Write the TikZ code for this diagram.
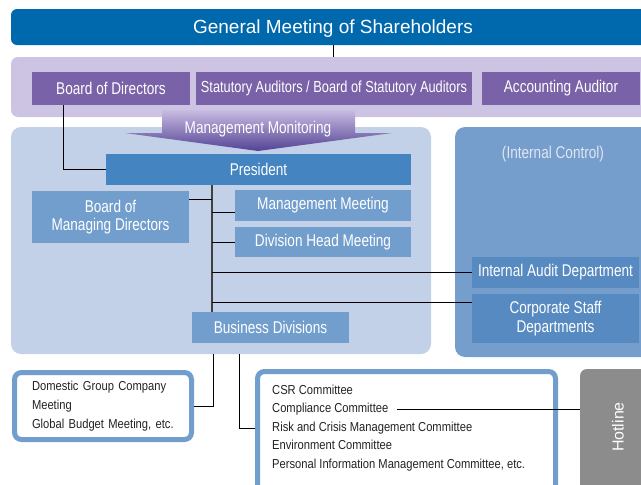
\documentclass[tikz,border=0pt]{standalone}
\usepackage{fontspec}
\setmainfont{Liberation Sans}
\newfontfamily\narrowfont[FakeStretch=0.8]{Liberation Sans}
\newfontfamily\listfont[FakeStretch=0.86]{Liberation Sans}

\definecolor{shareblue}{RGB}{0,104,172}
\definecolor{lavender}{RGB}{204,196,226}
\definecolor{boardpurple}{RGB}{122,98,168}
\definecolor{monlight}{RGB}{200,188,226}
\definecolor{mondark}{RGB}{84,66,148}
\definecolor{execpanel}{RGB}{195,209,232}
\definecolor{presblue}{RGB}{68,132,192}
\definecolor{staffblue}{RGB}{114,158,206}
\definecolor{ctrlpanel}{RGB}{118,158,204}
\definecolor{ctrlblue}{RGB}{88,138,194}
\definecolor{ctrltext}{RGB}{222,230,242}
\definecolor{hotgray}{RGB}{140,140,140}
\definecolor{listtext}{RGB}{35,35,35}

\tikzset{
  orgbox/.style={inner sep=0pt, text=white, align=center,
    font=\narrowfont\fontsize{17}{18.5}\selectfont},
  boardbox/.style={orgbox, fill=boardpurple},
  staffbox/.style={orgbox, fill=staffblue},
  ctrlbox/.style={orgbox, fill=ctrlblue},
  listbox/.style={draw=staffblue, line width=5pt, fill=white, rounded corners=7pt,
    inner sep=0pt, text=listtext, align=left,
    font=\listfont\fontsize{13}{19}\selectfont},
  link/.style={draw=black, line width=0.8pt},
  trunkline/.style={draw=black!75, line width=1.3pt}
}

\begin{document}
\begin{tikzpicture}[x=1pt,y=-1pt]
  \useasboundingbox (0,0) rectangle (641,485);
  \clip (0,0) rectangle (641,485);

  % General meeting and the band of boards
  \node[fill=shareblue, rounded corners=6pt, minimum width=644, minimum height=36] (gms) at (333,27) {};
  \node[text=white, inner sep=0pt, font=\fontsize{19}{21}\selectfont] (gmstext) at (333,29) {General Meeting of Shareholders};
  \node[fill=lavender, rounded corners=7pt, minimum width=644, minimum height=60] (band) at (333,87) {};
  \draw[link] (gms.south) -- (band.north);

  \node[boardbox, minimum width=158, minimum height=33] (bod) at (111,88.5) {Board of Directors};
  \node[boardbox, minimum width=276, minimum height=33, font=\narrowfont\fontsize{16}{18}\selectfont]
    (stat) at (334,88.5) {Statutory Auditors / Board of Statutory Auditors};
  \node[boardbox, minimum width=158, minimum height=33] (acc) at (561,88.5) {Accounting Auditor};

  % Panels
  \node[fill=execpanel, rounded corners=10pt, minimum width=420, minimum height=227] (mgmt) at (221,240.5) {};
  \node[fill=ctrlpanel, rounded corners=10pt, minimum width=205, minimum height=230] (ctrl) at (557.5,242) {};
  \node[inner sep=0pt, text=ctrltext, font=\narrowfont\fontsize{17}{18}\selectfont] (ctrllabel) at (553,154) {(Internal Control)};

  % Management monitoring arrow
  \shade[top color=monlight, bottom color=mondark]
    (162,110) -- (355,110) -- (355,133) -- (392,133) -- (258,151) -- (125,133) -- (162,133) -- cycle;
  \node[orgbox] (monitor) at (258,129.5) {Management Monitoring};

  % Executive boxes
  \node[orgbox, fill=presblue, minimum width=305, minimum height=31] (president) at (258.5,169.5) {President};
  \node[staffbox, minimum width=157, minimum height=52] (bmd) at (110.5,217) {Board of\\Managing Directors};
  \node[staffbox, minimum width=176, minimum height=31] (mm) at (323,205.5) {Management Meeting};
  \node[staffbox, minimum width=176, minimum height=30] (dhm) at (323,242) {Division Head Meeting};
  \node[staffbox, minimum width=157, minimum height=31] (bus) at (270.5,327.5) {Business Divisions};

  \node[ctrlbox, minimum width=167, minimum height=31] (iad) at (555.5,272.5) {Internal Audit Department};
  \node[ctrlbox, minimum width=167, minimum height=49] (csd) at (555.5,318.5) {Corporate Staff\\Departments};

  % Connectors
  \draw[link] ([xshift=-48pt]bod.south) |- (president.west);
  \coordinate (trunk) at (212,185);
  \draw[trunkline] (trunk |- president.south) -- (trunk |- bus.north);
  \draw[link] (bmd.east |- 0,199) -- (trunk |- 0,199);
  \draw[link] (trunk |- 0,212) -- (mm.west |- 0,212);
  \draw[link] (trunk |- dhm.west) -- (dhm.west);
  \draw[link] (trunk |- iad.west) -- (iad.west);
  \draw[link] (trunk |- 0,302) -- (csd.west |- 0,302);

  % Bottom row
  \node[listbox, minimum width=177, minimum height=67, text width=142] (dom) at (103,406)
    {Domestic Group Company\\Meeting\\Global Budget Meeting, etc.};
  \node[listbox, minimum width=298, minimum height=128.5] (csr) at (406.5,435.75) {};
  \node[inner sep=0pt, anchor=west, align=left, text=listtext,
    font=\listfont\fontsize{13}{18.5}\selectfont] (csrlist) at (272,428)
    {CSR Committee\\Compliance Committee\\Risk and Crisis Management Committee\\Environment Committee\\Personal Information Management Committee, etc.};
  \node[fill=hotgray, rounded corners=7pt, minimum width=80, minimum height=136] (hotline) at (620,437) {};
  \node[rotate=90, inner sep=0pt, text=white, font=\fontsize{16}{18}\selectfont] (hottext) at (618,427) {Hotline};

  \draw[link] (mgmt.south -| 213,0) |- (dom.east);
  \draw[link] (mgmt.south -| 239,0) |- (csr.west |- csrlist.west);
  \coordinate (compl) at (397,409);
  \draw[link] (compl) -- (hotline.west |- compl);
\end{tikzpicture}
\end{document}
